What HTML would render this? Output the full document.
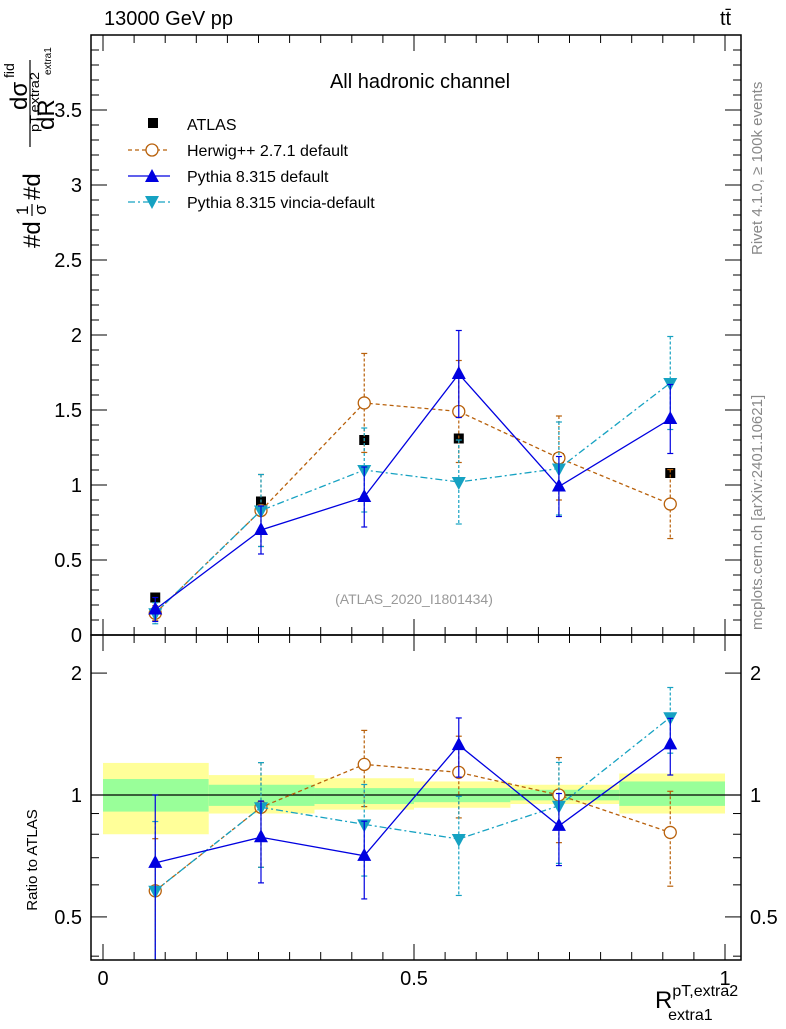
<!DOCTYPE html>
<html><head><meta charset="utf-8"><style>
body{margin:0;background:#fff}
svg{font-family:"Liberation Sans",sans-serif}
</style></head><body>
<svg id="c" width="786" height="1024" viewBox="0 0 786 1024" xmlns="http://www.w3.org/2000/svg">
<rect width="786" height="1024" fill="#fff"/>
<g id="bands"></g>
<g id="marks"></g>
<g id="axes"></g>
<text x="104" y="25" font-size="20">13000 GeV pp</text>
<text x="720" y="25" font-size="20">tt̄</text>
<text x="420" y="88" font-size="20" text-anchor="middle">All hadronic channel</text>
<text x="414" y="604" font-size="14" fill="#999" text-anchor="middle">(ATLAS_2020_I1801434)</text>
<text transform="translate(762,255) rotate(-90)" font-size="15" fill="#888">Rivet 4.1.0, ≥ 100k events</text>
<text transform="translate(762,630) rotate(-90)" font-size="15" fill="#888">mcplots.cern.ch [arXiv:2401.10621]</text>
<g transform="translate(40,250) rotate(-90)">
<text x="2" y="0" font-size="24">#d</text>
<text x="35" y="-12" font-size="17">1</text>
<line x1="34" y1="-8" x2="46" y2="-8" stroke="#000" stroke-width="1.2"/>
<text x="35" y="6" font-size="17">σ</text>
<text x="50" y="0" font-size="24">#d</text>
<line x1="103" y1="-10" x2="190" y2="-10" stroke="#000" stroke-width="1.2"/>
<text x="140" y="-13" font-size="24">dσ</text>
<text x="172" y="-26" font-size="14">fid</text>
<text x="118" y="-1" font-size="13" textLength="60" lengthAdjust="spacingAndGlyphs">pT,extra2</text>
<text x="120" y="14" font-size="24">dR</text>
<text x="175" y="11" font-size="10">extra1</text>
</g>
<text transform="translate(37,860) rotate(-90)" font-size="15" text-anchor="middle">Ratio to ATLAS</text>
<text x="655" y="1008" font-size="24">R<tspan dy="-12" font-size="16">pT,extra2</tspan><tspan dx="-70" dy="24" font-size="16">extra1</tspan></text>
<g>
<rect x="148" y="118" width="10" height="10" fill="#000"/>
<text x="187" y="130" font-size="16">ATLAS</text>
<line x1="128" y1="150" x2="170" y2="150" stroke="#b8600a" stroke-width="1.3" stroke-dasharray="4,3"/>
<circle cx="152" cy="150" r="6" fill="#fff" stroke="#b8600a" stroke-width="1.3"/>
<text x="187" y="156" font-size="16">Herwig++ 2.7.1 default</text>
<line x1="128" y1="176" x2="170" y2="176" stroke="#0000e0" stroke-width="1.3"/>
<path d="M145,182 L159,182 L152,169 Z" fill="#0000e0"/>
<text x="187" y="182" font-size="16">Pythia 8.315 default</text>
<line x1="128" y1="202" x2="170" y2="202" stroke="#16a2c2" stroke-width="1.3" stroke-dasharray="7,3,2,3"/>
<path d="M145,196 L159,196 L152,209 Z" fill="#16a2c2"/>
<text x="187" y="208" font-size="16">Pythia 8.315 vincia-default</text>
</g>
</svg>
<script>
const binEdges=[0,0.17,0.34,0.5,0.655,0.83,1.0];
const xCenters=[0.084,0.254,0.42,0.572,0.733,0.912];
const atlas=[0.25,0.89,1.30,1.31,1.18,1.08];
const atlasErr=[0.02,0.03,0.03,0.03,0.03,0.03];
const herwig=[0.145,0.83,1.547,1.49,1.18,0.873];
const herwigErr=[0.05,0.24,0.33,0.34,0.28,0.23];
const pythia=[0.17,0.70,0.92,1.74,0.99,1.44];
const pythiaErr=[0.08,0.16,0.20,0.29,0.20,0.23];
const vincia=[0.145,0.83,1.10,1.02,1.11,1.68];
const vinciaErr=[0.07,0.24,0.28,0.28,0.31,0.31];
const yellowHi=[1.2,1.12,1.10,1.08,1.06,1.13];
const yellowLo=[0.8,0.90,0.92,0.93,0.95,0.90];
const greenHi=[1.095,1.06,1.04,1.04,1.03,1.08];
const greenLo=[0.91,0.94,0.95,0.96,0.97,0.94];
const xTicks=[0,0.5,1];
const yTicks=[0,0.5,1,1.5,2,2.5,3,3.5];
const rTicks=[0.5,1,2];

const NS="http://www.w3.org/2000/svg";
const X=v=>103+v*622;
const Y=v=>635-v*150;
const R=v=>795-Math.log10(v)*405;
const L=91,RT=741,T=35,M=635,B=960;
function mk(tag,attrs,parent){const e=document.createElementNS(NS,tag);for(const k in attrs)e.setAttribute(k,attrs[k]);(parent||document.getElementById('marks')).appendChild(e);return e;}
const clipTop=mk('clipPath',{id:'ct'},document.getElementById('c'));mk('rect',{x:L,y:T,width:RT-L,height:M-T},clipTop);
const clipBot=mk('clipPath',{id:'cb'},document.getElementById('c'));mk('rect',{x:L,y:M,width:RT-L,height:B-M},clipBot);
const bands=document.getElementById('bands');
for(let i=0;i<6;i++){
 const y=mk('rect',{x:X(binEdges[i]),y:R(yellowHi[i]),width:X(binEdges[i+1])-X(binEdges[i]),height:R(yellowLo[i])-R(yellowHi[i]),fill:'#ffff99'},bands);
 
 
 const g=mk('rect',{x:X(binEdges[i]),y:R(greenHi[i]),width:X(binEdges[i+1])-X(binEdges[i]),height:R(greenLo[i])-R(greenHi[i]),fill:'#99ff99'},bands);
 
 
}
mk('line',{x1:L,x2:RT,y1:R(1),y2:R(1),stroke:'#000','stroke-width':1.3},bands);
function series(vals,errs,color,dash,marker,name){
 const top=mk('g',{'clip-path':'url(#ct)'});
 
 
 const bot=mk('g',{'clip-path':'url(#cb)'});
 
 
 const ratio=vals.map((v,i)=>v/atlas[i]);
 const rerr=errs.map((e,i)=>e/atlas[i]);
 [[top,vals,errs,Y],[bot,ratio,rerr,R]].forEach(([g,v,e,f])=>{
  for(let i=0;i<v.length;i++){
   const lo=Math.max(v[i]-e[i],0.01);
   mk('line',{x1:X(xCenters[i]),x2:X(xCenters[i]),y1:f(v[i]+e[i]),y2:f(lo),stroke:color,'stroke-width':1.2,'stroke-dasharray':dash?'3,2':''},g);
   [v[i]+e[i],lo].forEach(t=>mk('line',{x1:X(xCenters[i])-3,x2:X(xCenters[i])+3,y1:f(t),y2:f(t),stroke:color,'stroke-width':1.2},g));
  }
  mk('polyline',{points:v.map((d,i)=>X(xCenters[i])+','+f(d)).join(' '),fill:'none',stroke:color,'stroke-width':1.3,'stroke-dasharray':dash},g);
  for(let i=0;i<v.length;i++){
   const cx=X(xCenters[i]),cy=f(v[i]);let m;
   if(marker==='o')m=mk('circle',{cx:cx,cy:cy,r:6,fill:'#fff',stroke:color,'stroke-width':1.3},g);
   else if(marker==='up')m=mk('path',{d:`M${cx-7},${cy+5}L${cx+7},${cy+5}L${cx},${cy-8}Z`,fill:color},g);
   else m=mk('path',{d:`M${cx-7},${cy-5}L${cx+7},${cy-5}L${cx},${cy+8}Z`,fill:color},g);
   
   
  }
 });
}
for(let i=0;i<atlas.length;i++){
 const p=mk('rect',{x:X(xCenters[i])-5,y:Y(atlas[i])-5,width:10,height:10,fill:'#000'});
 
 
}
series(herwig,herwigErr,'#b8600a','4,3','o','herwig');
series(vincia,vinciaErr,'#16a2c2','7,3,2,3','down','vincia');
series(pythia,pythiaErr,'#0000e0','','up','pythia');
const ax=document.getElementById('axes');
mk('rect',{x:L,y:T,width:RT-L,height:M-T,fill:'none',stroke:'#000','stroke-width':1.5},ax);
mk('rect',{x:L,y:M,width:RT-L,height:B-M,fill:'none',stroke:'#000','stroke-width':1.5},ax);
for(let v=0;v<=1.001;v+=0.05){
 const big=Math.abs(v*2-Math.round(v*2))<1e-6, len=big?16:8;
 [[T,1],[M,-1],[M,1],[B,-1]].forEach(([y0,s])=>mk('line',{x1:X(v),x2:X(v),y1:y0,y2:y0+s*len,stroke:'#000'},ax));
}
for(let v=0;v<=4.0;v+=0.1){
 const y=Y(v);if(y<T)break;
 const big=Math.abs(v*2-Math.round(v*2))<1e-6,len=big?16:8;
 mk('line',{x1:L,x2:L+len,y1:y,y2:y,stroke:'#000'},ax);
 mk('line',{x1:RT,x2:RT-len,y1:y,y2:y,stroke:'#000'},ax);
}
[0.4,0.5,0.6,0.7,0.8,0.9,1,2].forEach(v=>{const y=R(v);const big=rTicks.includes(v);const len=big?16:8;
 mk('line',{x1:L,x2:L+len,y1:y,y2:y,stroke:'#000'},ax);mk('line',{x1:RT,x2:RT-len,y1:y,y2:y,stroke:'#000'},ax);});
yTicks.forEach(v=>{const t=mk('text',{x:82,y:Y(v)+7,'font-size':20,'text-anchor':'end'},ax);t.textContent=String(v);
 
 });
rTicks.forEach(v=>{[[82,'end'],[750,'start']].forEach(([x,a])=>{const t=mk('text',{x:x,y:R(v)+7,'font-size':20,'text-anchor':a},ax);t.textContent=String(v);
 
 });});
xTicks.forEach(v=>{const t=mk('text',{x:X(v),y:985,'font-size':20,'text-anchor':'middle'},ax);t.textContent=String(v);
 
 });
</script>
</body></html>
